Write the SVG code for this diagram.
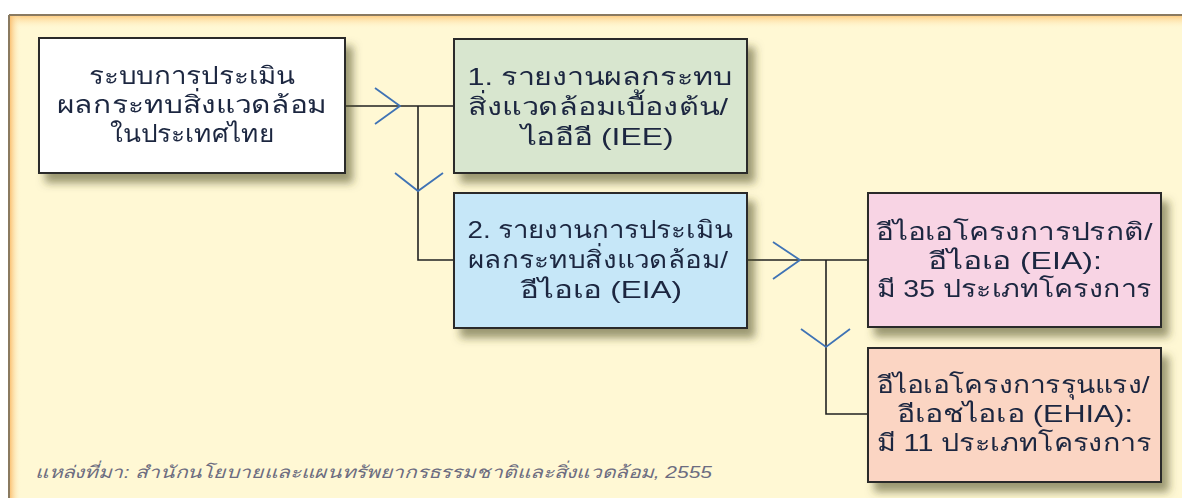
<svg xmlns="http://www.w3.org/2000/svg" width="1182" height="498" viewBox="0 0 1182 498">
<defs>
<filter id="sh" x="-10%" y="-10%" width="130%" height="140%">
<feGaussianBlur in="SourceAlpha" stdDeviation="4.5"/>
<feOffset dx="7" dy="9" result="b"/>
<feFlood flood-color="#4a4a20" flood-opacity="0.55"/>
<feComposite in2="b" operator="in"/>
<feMerge><feMergeNode/><feMergeNode in="SourceGraphic"/></feMerge>
</filter>
<linearGradient id="gt" x1="0" y1="0" x2="0" y2="1">
<stop offset="0" stop-color="#fdc87a"/>
<stop offset="1" stop-color="#fff8d4" stop-opacity="0"/>
</linearGradient>
<linearGradient id="gl" x1="0" y1="0" x2="1" y2="0">
<stop offset="0" stop-color="#f9b966"/>
<stop offset="1" stop-color="#fff8d4" stop-opacity="0"/>
</linearGradient>
</defs>
<style>
.box{stroke:#2b2b2b;stroke-width:2}
.t{font-family:"Liberation Sans","Noto Sans",sans-serif;font-size:24px;fill:#1c2740;text-anchor:middle}
.ln{fill:none;stroke:#222;stroke-width:1.6}
.ch{fill:none;stroke:#3f73b5;stroke-width:1.8}
.src{font-family:"Liberation Sans","Noto Sans",sans-serif;font-size:17px;font-style:italic;fill:#6c6c80}
</style>
<rect width="1182" height="498" fill="#ffffff"/>
<rect x="9" y="15" width="1180" height="490" fill="#fff8d4"/>
<rect x="9" y="15" width="1180" height="14" fill="url(#gt)"/>
<rect x="9" y="15" width="12" height="490" fill="url(#gl)"/>
<line x1="9" y1="15" x2="1182" y2="15" stroke="#8a7a60" stroke-width="2"/>
<line x1="9" y1="15" x2="9" y2="498" stroke="#8a7a60" stroke-width="2"/>

<g id="connectors">
<path class="ln" d="M345 106 H454 M418 106 V260 H454"/>
<path class="ch" d="M375 88 L400 106 L375 124"/>
<path class="ch" d="M395 173 L418 191 L443 173"/>
<path class="ln" d="M747 260 H868 M826 260 V414 H868"/>
<path class="ch" d="M773 242 L800 260 L773 279"/>
<path class="ch" d="M801 329 L826 347 L850 329"/>
</g>

<g id="n-system" filter="url(#sh)">
<rect class="box" x="39" y="38" width="306" height="135" fill="#ffffff"/>
<text class="t" x="192" y="84" textLength="206" lengthAdjust="spacingAndGlyphs">ระบบการประเมิน</text>
<text class="t" x="192" y="113" textLength="270" lengthAdjust="spacingAndGlyphs">ผลกระทบสิ่งแวดล้อม</text>
<text class="t" x="192" y="142" textLength="164" lengthAdjust="spacingAndGlyphs">ในประเทศไทย</text>
</g>

<g id="n-iee" filter="url(#sh)">
<rect class="box" x="454" y="39" width="293" height="134" fill="#d8e6cf"/>
<text class="t" x="600" y="85" textLength="265" lengthAdjust="spacingAndGlyphs">1. รายงานผลกระทบ</text>
<text class="t" x="598" y="115" textLength="260" lengthAdjust="spacingAndGlyphs">สิ่งแวดล้อมเบื้องต้น/</text>
<text class="t" x="597" y="145" textLength="153" lengthAdjust="spacingAndGlyphs">ไออีอี (IEE)</text>
</g>

<g id="n-eia" filter="url(#sh)">
<rect class="box" x="454" y="193" width="293" height="135" fill="#c6e7f8"/>
<text class="t" x="600" y="238" textLength="265" lengthAdjust="spacingAndGlyphs">2. รายงานการประเมิน</text>
<text class="t" x="598" y="268" textLength="260" lengthAdjust="spacingAndGlyphs">ผลกระทบสิ่งแวดล้อม/</text>
<text class="t" x="601" y="298" textLength="162" lengthAdjust="spacingAndGlyphs">อีไอเอ (EIA)</text>
</g>

<g id="n-eia-normal" filter="url(#sh)">
<rect class="box" x="868" y="193" width="293" height="134" fill="#f8d4e4"/>
<text class="t" x="1014" y="240" textLength="277" lengthAdjust="spacingAndGlyphs">อีไอเอโครงการปรกติ/</text>
<text class="t" x="1015" y="269" textLength="174" lengthAdjust="spacingAndGlyphs">อีไอเอ (EIA):</text>
<text class="t" x="1014" y="297" textLength="275" lengthAdjust="spacingAndGlyphs">มี 35 ประเภทโครงการ</text>
</g>

<g id="n-ehia" filter="url(#sh)">
<rect class="box" x="868" y="348" width="293" height="134" fill="#fbd5c3"/>
<text class="t" x="1013" y="393" textLength="273" lengthAdjust="spacingAndGlyphs">อีไอเอโครงการรุนแรง/</text>
<text class="t" x="1015" y="422" textLength="236" lengthAdjust="spacingAndGlyphs">อีเอชไอเอ (EHIA):</text>
<text class="t" x="1014" y="451" textLength="275" lengthAdjust="spacingAndGlyphs">มี 11 ประเภทโครงการ</text>
</g>

<text class="src" x="35" y="478" textLength="677" lengthAdjust="spacingAndGlyphs">แหล่งที่มา: สำนักนโยบายและแผนทรัพยากรธรรมชาติและสิ่งแวดล้อม, 2555</text>
</svg>
